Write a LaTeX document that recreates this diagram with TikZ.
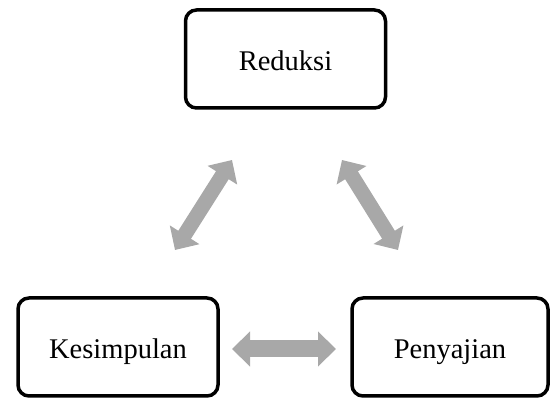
\documentclass[tikz,border=0pt]{standalone}
\usepackage{fontspec}
\setmainfont{Liberation Serif}
\usetikzlibrary{arrows.meta}
\definecolor{arrowgray}{RGB}{168,168,168}
\begin{document}
\begin{tikzpicture}[x=1pt,y=1pt,
  box/.style={draw=black, line width=3.5pt, rounded corners=11pt,
    minimum width=200pt, minimum height=98pt, inner sep=0pt,
    text height=24pt, text depth=0pt,
    font=\fontsize{28.5}{34}\selectfont},
  twoway/.style={draw=arrowgray, line width=#1,
    {Triangle[length=18pt,width=34pt]}-{Triangle[length=18pt,width=34pt]}},
  twoway/.default=15pt]
\useasboundingbox (0,0) rectangle (550,398);
\node[box] (red) at (285.5,339) {Reduksi};
\node[box] (kes) at (118,51) {Kesimpulan};
\node[box, minimum width=196pt] (pen) at (450,51) {Penyajian};
\coordinate (l1) at (232,238);
\coordinate (l2) at (175,148);
\coordinate (r1) at (342,238);
\coordinate (r2) at (398,148);
\coordinate (b1) at (232,49);
\coordinate (b2) at (336,49);
\draw[twoway] (l1) -- (l2);
\draw[twoway] (r1) -- (r2);
\draw[twoway=17pt] (b1) -- (b2);
\end{tikzpicture}
\end{document}
